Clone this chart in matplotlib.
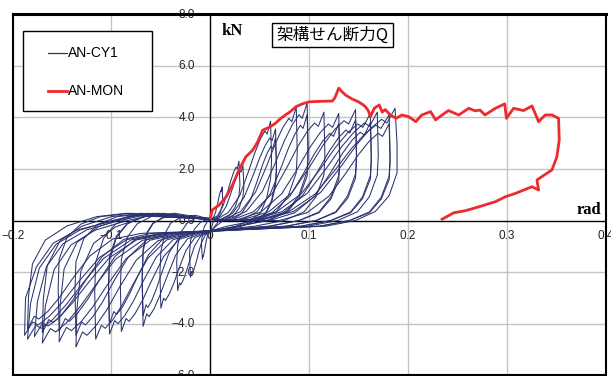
import matplotlib
matplotlib.use("Agg")
import matplotlib.pyplot as plt
from matplotlib.patches import Rectangle
from matplotlib.lines import Line2D

plt.rcParams["font.family"] = ["Liberation Sans", "Noto Sans CJK JP", "DejaVu Sans"]
plt.rcParams["axes.unicode_minus"] = True

# ── データ ────────────────────────────────────────
# AN-MON（単調載荷）
mon = [(0.000, 0.09), (0.002, 0.41), (0.009, 0.60), (0.016, 0.92), (0.0225, 1.38),
       (0.029, 1.96), (0.036, 2.47), (0.043, 2.73), (0.048, 3.05), (0.053, 3.50),
       (0.060, 3.62), (0.066, 3.77), (0.071, 3.95), (0.076, 4.09), (0.081, 4.22),
       (0.0866, 4.41), (0.093, 4.52), (0.100, 4.60), (0.112, 4.62), (0.1235, 4.63),
       (0.126, 4.75), (0.130, 5.13), (0.133, 5.00), (0.137, 4.86), (0.143, 4.72),
       (0.150, 4.60), (0.154, 4.50), (0.157, 4.41), (0.160, 4.25), (0.162, 4.02),
       (0.166, 4.35), (0.171, 4.48), (0.174, 4.20), (0.177, 4.30), (0.182, 4.10),
       (0.188, 3.96), (0.194, 4.09), (0.201, 4.02), (0.208, 3.83), (0.214, 4.09),
       (0.223, 4.22), (0.228, 3.90), (0.235, 4.10), (0.241, 4.26), (0.2515, 4.09),
       (0.2616, 4.35), (0.268, 4.25), (0.273, 4.28), (0.278, 4.09), (0.2886, 4.35),
       (0.298, 4.52), (0.2997, 3.96), (0.307, 4.35), (0.317, 4.26), (0.3256, 4.44),
       (0.3323, 3.83), (0.339, 4.09), (0.3458, 4.09), (0.3525, 3.96), (0.3532, 3.12),
       (0.3508, 2.47), (0.3458, 1.96), (0.3356, 1.70), (0.3306, 1.57), (0.3323, 1.18),
       (0.3256, 1.31), (0.3088, 1.05), (0.2987, 0.92), (0.2886, 0.73), (0.2717, 0.53),
       (0.2583, 0.38), (0.2465, 0.30), (0.2346, 0.05)]

# AN-CY1（繰り返し載荷）各サイクル
a01 = [(0.0, 0.05), (0.003, 0.10), (0.0054, 0.33), (0.0072, 0.62), (0.0086, 0.88), (0.0098, 1.07),
       (0.0108, 1.17), (0.0113, 1.13), (0.012, 1.30), (0.0125, 0.78), (0.012, 0.55), (0.010, 0.29),
       (0.007, 0.10), (0.003, -0.05), (0.0, -0.44), (-0.002, -0.51), (-0.0036, -0.69),
       (-0.0048, -0.94), (-0.0058, -1.15), (-0.0066, -1.31), (-0.0072, -1.39), (-0.0075, -1.36),
       (-0.008, -1.50), (-0.009, -0.90), (-0.008, -0.53), (-0.006, -0.23), (-0.003, -0.05), (0.0, 0.05)]
a02 = [(0.0, 0.05), (0.0073, 0.18), (0.013, 0.58), (0.0174, 1.10), (0.0209, 1.56), (0.0238, 1.89),
       (0.0261, 2.07), (0.0273, 2.00), (0.029, 2.30), (0.030, 1.38), (0.029, 0.97), (0.025, 0.51),
       (0.019, 0.18), (0.009, 0.0), (0.0, -0.46), (-0.005, -0.56), (-0.009, -0.865), (-0.012, -1.27),
       (-0.0144, -1.63), (-0.0164, -1.88), (-0.018, -2.02), (-0.0188, -1.97), (-0.020, -2.20),
       (-0.021, -1.32), (-0.020, -0.77), (-0.016, -0.33), (-0.010, -0.07), (0.0, 0.10)]
a03 = [(0.0, 0.05), (0.002, 0.04), (0.0098, 0.17), (0.016, 0.54), (0.0206, 1.03), (0.0243, 1.46),
       (0.0274, 1.76), (0.0299, 1.94), (0.0311, 1.87), (0.033, 2.15), (0.034, 1.29), (0.033, 0.90),
       (0.029, 0.47), (0.023, 0.17), (0.013, 0.0), (-0.002, -0.466), (-0.0098, -0.604),
       (-0.016, -0.995), (-0.0206, -1.524), (-0.0243, -1.984), (-0.0274, -2.306), (-0.0299, -2.49),
       (-0.0311, -2.42), (-0.033, -2.72), (-0.034, -1.63), (-0.033, -0.95), (-0.029, -0.41),
       (-0.023, -0.08), (-0.013, 0.12), (0.0, 0.10)]
a04 = [(0.0, 0.05), (0.004, 0.0), (0.0183, 0.31), (0.0297, 0.96), (0.0382, 1.85), (0.045, 2.62),
       (0.0507, 3.16), (0.0553, 3.47), (0.0576, 3.35), (0.061, 3.85), (0.062, 2.31), (0.061, 1.62),
       (0.057, 0.85), (0.051, 0.31), (0.041, 0.0), (0.026, -0.22), (-0.004, -0.48),
       (-0.0155, -0.66), (-0.0247, -1.165), (-0.0316, -1.85), (-0.0371, -2.45), (-0.0417, -2.86),
       (-0.0454, -3.10), (-0.0472, -3.01), (-0.050, -3.40), (-0.051, -2.04), (-0.050, -1.19),
       (-0.046, -0.51), (-0.040, -0.10), (-0.030, 0.12), (-0.015, 0.20), (0.0, 0.05)]
a05 = [(0.0, 0.05), (0.008, 0.0), (0.0225, 0.28), (0.0341, 0.89), (0.0428, 1.70), (0.0498, 2.41),
       (0.0556, 2.91), (0.0602, 3.20), (0.0625, 3.09), (0.066, 3.55), (0.067, 2.13), (0.066, 1.49),
       (0.062, 0.78), (0.056, 0.28), (0.046, 0.0), (0.031, -0.22), (0.0, -0.42), (-0.008, -0.49),
       (-0.023, -0.71), (-0.035, -1.34), (-0.044, -2.19), (-0.0512, -2.92), (-0.0572, -3.44),
       (-0.062, -3.73), (-0.0644, -3.62), (-0.068, -4.10), (-0.069, -2.46), (-0.068, -1.20),
       (-0.064, -0.50), (-0.058, -0.12), (-0.048, 0.12), (-0.033, 0.22), (0.0, 0.0)]
a06 = [(0.0, 0.05), (0.012, 0.0), (0.0308, 0.35), (0.0458, 1.10), (0.057, 2.11), (0.066, 2.99),
       (0.0735, 3.61), (0.0795, 3.96), (0.0825, 3.83), (0.087, 4.40), (0.088, 2.64), (0.087, 1.85),
       (0.079, 0.97), (0.067, 0.35), (0.047, 0.0), (0.017, -0.22), (0.0, -0.40), (-0.012, -0.50),
       (-0.0315, -0.73), (-0.0471, -1.39), (-0.0588, -2.28), (-0.0682, -3.06), (-0.076, -3.60),
       (-0.0822, -3.91), (-0.0853, -3.80), (-0.090, -4.30), (-0.091, -2.58), (-0.090, -1.50),
       (-0.084, -0.65), (-0.074, -0.13), (-0.060, 0.15), (-0.040, 0.25), (-0.015, 0.12), (0.0, 0.05)]
a07 = [(0.0, 0.05), (0.016, 0.0), (0.0365, 0.36), (0.0529, 1.14), (0.0652, 2.18), (0.075, 3.09),
       (0.0832, 3.73), (0.0898, 4.10), (0.0931, 3.96), (0.098, 4.55), (0.099, 2.73), (0.098, 1.91),
       (0.090, 1.00), (0.078, 0.36), (0.058, 0.0), (0.028, -0.22), (0.0, -0.42), (-0.016, -0.50),
       (-0.0375, -0.74), (-0.0547, -1.42), (-0.0676, -2.33), (-0.0779, -3.13), (-0.0865, -3.68),
       (-0.0934, -4.00), (-0.0968, -3.88), (-0.102, -4.40), (-0.103, -2.64), (-0.102, -1.54),
       (-0.095, -0.66), (-0.084, -0.13), (-0.068, 0.15), (-0.048, 0.28), (-0.020, 0.12), (0.0, 0.05)]
a08 = [(0.0, 0.05), (0.020, 0.0), (0.0438, 0.34), (0.0628, 1.05), (0.077, 2.02), (0.0884, 2.86),
       (0.0979, 3.44), (0.1055, 3.78), (0.1093, 3.65), (0.115, 4.20), (0.116, 2.52), (0.115, 1.76),
       (0.107, 0.92), (0.095, 0.34), (0.075, 0.0), (0.045, -0.22), (0.0, -0.40), (-0.020, -0.50),
       (-0.044, -0.75), (-0.0632, -1.465), (-0.0776, -2.43), (-0.0891, -3.26), (-0.0987, -3.85),
       (-0.1064, -4.18), (-0.1102, -4.06), (-0.116, -4.60), (-0.117, -2.76), (-0.116, -1.61),
       (-0.108, -0.69), (-0.096, -0.14), (-0.080, 0.15), (-0.058, 0.28), (-0.025, 0.12), (0.0, 0.05)]
a09 = [(0.0, 0.05), (0.025, 0.0), (0.0513, 0.33), (0.0723, 1.04), (0.088, 1.99), (0.1006, 2.82),
       (0.1111, 3.40), (0.1195, 3.74), (0.1237, 3.61), (0.130, 4.15), (0.131, 2.49), (0.130, 1.74),
       (0.122, 0.91), (0.110, 0.33), (0.090, 0.0), (0.060, -0.22), (0.0, -0.42), (-0.025, -0.51),
       (-0.0528, -0.78), (-0.075, -1.54), (-0.0916, -2.57), (-0.1049, -3.47), (-0.116, -4.09),
       (-0.1249, -4.45), (-0.1293, -4.32), (-0.136, -4.90), (-0.135, -3.43), (-0.131, -1.96),
       (-0.118, -0.88), (-0.096, -0.25), (-0.066, 0.15), (-0.036, 0.28), (0.0, 0.05)]
a10 = [(0.0, 0.05), (0.030, 0.0), (0.0593, 0.34), (0.0827, 1.08), (0.1002, 2.06), (0.1142, 2.92),
       (0.1259, 3.53), (0.1353, 3.87), (0.140, 3.74), (0.147, 4.30), (0.148, 2.58), (0.147, 1.81),
       (0.139, 0.95), (0.127, 0.34), (0.107, 0.0), (0.077, -0.22), (0.0, -0.40), (-0.030, -0.51),
       (-0.0608, -0.76), (-0.0854, -1.49), (-0.1038, -2.47), (-0.1186, -3.33), (-0.1309, -3.93),
       (-0.1407, -4.27), (-0.1456, -4.14), (-0.153, -4.70), (-0.152, -3.29), (-0.148, -1.88),
       (-0.135, -0.85), (-0.113, -0.24), (-0.083, 0.15), (-0.053, 0.28), (0.0, 0.05)]
a11 = [(0.0, 0.05), (0.035, 0.0), (0.0668, 0.33), (0.0922, 1.04), (0.1112, 1.99), (0.1264, 2.82),
       (0.1391, 3.40), (0.1493, 3.74), (0.1544, 3.61), (0.162, 4.15), (0.163, 2.49), (0.162, 1.74),
       (0.154, 0.91), (0.142, 0.33), (0.122, 0.0), (0.092, -0.22), (0.0, -0.42), (-0.035, -0.51),
       (-0.0688, -0.77), (-0.0958, -1.50), (-0.116, -2.50), (-0.1322, -3.36), (-0.1457, -3.97),
       (-0.1565, -4.32), (-0.1619, -4.19), (-0.170, -4.75), (-0.167, -3.33), (-0.158, -1.90),
       (-0.141, -0.95), (-0.117, -0.38), (-0.084, 0.0), (-0.060, 0.20), (0.0, 0.05)]
a12 = [(0.0, 0.05), (0.040, 0.0), (0.0723, 0.34), (0.098, 1.05), (0.1174, 2.02), (0.1329, 2.86),
       (0.1458, 3.44), (0.1561, 3.78), (0.1613, 3.65), (0.169, 4.20), (0.170, 2.52), (0.169, 1.76),
       (0.161, 0.92), (0.149, 0.34), (0.129, 0.0), (0.099, -0.22), (0.0, -0.40), (-0.040, -0.50),
       (-0.0745, -0.75), (-0.1021, -1.44), (-0.1228, -2.38), (-0.1394, -3.19), (-0.1532, -3.77),
       (-0.1642, -4.09), (-0.1697, -3.97), (-0.178, -4.50), (-0.175, -3.15), (-0.166, -1.80),
       (-0.149, -0.90), (-0.125, -0.36), (-0.092, 0.0), (-0.068, 0.20), (0.0, 0.05)]
a13 = [(0.0, 0.05), (0.045, 0.0), (0.079, 0.33), (0.1062, 1.03), (0.1266, 1.97), (0.1429, 2.79),
       (0.1565, 3.36), (0.1674, 3.69), (0.1728, 3.57), (0.181, 4.10), (0.182, 2.46), (0.181, 1.72),
       (0.173, 0.90), (0.161, 0.33), (0.141, 0.0), (0.111, -0.22), (0.0, -0.42), (-0.045, -0.50),
       (-0.080, -0.75), (-0.108, -1.47), (-0.129, -2.43), (-0.1458, -3.26), (-0.1598, -3.85),
       (-0.171, -4.18), (-0.1766, -4.06), (-0.185, -4.60), (-0.182, -3.22), (-0.173, -1.84),
       (-0.156, -0.92), (-0.132, -0.37), (-0.099, 0.0), (-0.075, 0.20), (0.0, 0.05)]
a14 = [(0.0, 0.05), (0.050, 0.0), (0.0843, 0.35), (0.1117, 1.09), (0.1322, 2.09), (0.1486, 2.96),
       (0.1623, 3.57), (0.1733, 3.92), (0.1788, 3.78), (0.187, 4.35), (0.189, 3.00), (0.189, 1.85),
       (0.181, 0.96), (0.167, 0.35), (0.147, 0.0), (0.117, -0.22), (0.0, -0.40), (-0.050, -0.50),
       (-0.0845, -0.74), (-0.1121, -1.43), (-0.1328, -2.35), (-0.1494, -3.16), (-0.1632, -3.72),
       (-0.1742, -4.05), (-0.1797, -3.93), (-0.188, -4.45), (-0.187, -3.00), (-0.176, -1.80),
       (-0.159, -0.88), (-0.135, -0.37), (-0.102, -0.05), (-0.078, 0.20), (0.0, 0.05)]
# 2回目の繰り返し（同振幅）
s05 = [(0.0, 0.05), (0.020, 0.0), (0.0315, 0.26), (0.0407, 0.80), (0.0476, 1.54), (0.0531, 2.18),
       (0.0577, 2.62), (0.0614, 2.88), (0.0632, 2.78), (0.066, 3.20), (0.067, 1.92), (0.066, 1.34),
       (0.062, 0.70), (0.056, 0.26), (0.046, 0.0), (0.031, -0.22), (0.0, -0.42), (-0.020, -0.49),
       (-0.032, -0.68), (-0.0416, -1.24), (-0.0488, -1.99), (-0.0546, -2.65), (-0.0594, -3.11),
       (-0.0632, -3.37), (-0.0651, -3.27), (-0.068, -3.70), (-0.069, -2.20), (-0.068, -1.10),
       (-0.064, -0.45), (-0.058, -0.10), (-0.048, 0.10), (-0.033, 0.20), (0.0, 0.0)]
s07 = [(0.0, 0.05), (0.030, 0.0), (0.047, 0.33), (0.0606, 1.03), (0.0708, 1.97), (0.079, 2.79),
       (0.0858, 3.36), (0.0912, 3.69), (0.0939, 3.57), (0.098, 4.10), (0.099, 2.46), (0.098, 1.72),
       (0.090, 0.90), (0.078, 0.33), (0.058, 0.0), (0.028, -0.22), (0.0, -0.40), (-0.030, -0.50),
       (-0.048, -0.71), (-0.0624, -1.32), (-0.0732, -2.14), (-0.0818, -2.85), (-0.089, -3.36),
       (-0.0948, -3.64), (-0.0977, -3.53), (-0.102, -4.00), (-0.103, -2.40), (-0.102, -1.40),
       (-0.095, -0.60), (-0.084, -0.12), (-0.068, 0.15), (-0.048, 0.25), (0.0, 0.05)]
s09 = [(0.0, 0.05), (0.040, 0.0), (0.0625, 0.30), (0.0805, 0.94), (0.094, 1.80), (0.1048, 2.55),
       (0.1138, 3.08), (0.121, 3.38), (0.1246, 3.26), (0.130, 3.75), (0.131, 2.25), (0.130, 1.58),
       (0.122, 0.83), (0.110, 0.30), (0.090, 0.0), (0.060, -0.22), (0.0, -0.42), (-0.040, -0.50),
       (-0.064, -0.74), (-0.0832, -1.43), (-0.0976, -2.35), (-0.1091, -3.16), (-0.1187, -3.72),
       (-0.1264, -4.05), (-0.1302, -3.93), (-0.136, -4.45), (-0.137, -2.70), (-0.136, -1.60),
       (-0.128, -0.70), (-0.114, -0.15), (-0.094, 0.15), (-0.064, 0.28), (0.0, 0.05)]
s10 = [(0.0, 0.05), (0.050, 0.0), (0.0743, 0.31), (0.0937, 0.98), (0.1082, 1.87), (0.1198, 2.65),
       (0.1295, 3.20), (0.1373, 3.51), (0.1412, 3.39), (0.147, 3.90), (0.148, 2.34), (0.147, 1.64),
       (0.139, 0.86), (0.127, 0.31), (0.107, 0.0), (0.077, -0.22), (0.0, -0.40), (-0.050, -0.50),
       (-0.0758, -0.73), (-0.0964, -1.39), (-0.1118, -2.28), (-0.1242, -3.06), (-0.1345, -3.60),
       (-0.1427, -3.91), (-0.1468, -3.80), (-0.153, -4.30), (-0.154, -2.60), (-0.153, -1.50),
       (-0.145, -0.65), (-0.131, -0.14), (-0.111, 0.15), (-0.081, 0.28), (0.0, 0.05)]
s11 = [(0.0, 0.05), (0.060, 0.0), (0.0855, 0.30), (0.1059, 0.95), (0.1212, 1.82), (0.1334, 2.58),
       (0.1436, 3.12), (0.1518, 3.42), (0.1559, 3.31), (0.162, 3.80), (0.163, 2.28), (0.162, 1.60),
       (0.154, 0.84), (0.142, 0.30), (0.122, 0.0), (0.092, -0.22), (0.0, -0.42), (-0.060, -0.50),
       (-0.0875, -0.73), (-0.1095, -1.40), (-0.126, -2.31), (-0.1392, -3.09), (-0.1502, -3.64),
       (-0.159, -3.96), (-0.1634, -3.84), (-0.170, -4.35), (-0.169, -3.05), (-0.165, -1.74),
       (-0.152, -0.78), (-0.130, -0.22), (-0.100, 0.15), (-0.070, 0.28), (0.0, 0.05)]
s13 = [(0.0, 0.05), (0.070, 0.0), (0.0978, 0.30), (0.120, 0.94), (0.1366, 1.80), (0.1499, 2.55),
       (0.161, 3.08), (0.1699, 3.38), (0.1743, 3.26), (0.181, 3.75), (0.182, 2.25), (0.181, 1.58),
       (0.173, 0.83), (0.161, 0.30), (0.141, 0.0), (0.111, -0.22), (0.0, -0.40), (-0.070, -0.50),
       (-0.0988, -0.72), (-0.1218, -1.37), (-0.139, -2.23), (-0.1528, -2.99), (-0.1643, -3.52),
       (-0.1735, -3.82), (-0.1781, -3.71), (-0.185, -4.20), (-0.184, -2.94), (-0.180, -1.68),
       (-0.167, -0.76), (-0.145, -0.21), (-0.115, 0.15), (-0.085, 0.28), (0.0, 0.05)]
cycles = [a01, a02, a03, a04, a05, s05, a06, a07, s07, a08, a09, s09, a10, s10,
          a11, s11, a12, a13, s13, a14]

x_ticks = [-0.2, -0.1, 0.0, 0.1, 0.2, 0.3, 0.4]
x_tick_labels = ["−0.2", "−0.1", "0", "0.1", "0.2", "0.3", "0.4"]
y_ticks = [-6.0, -4.0, -2.0, 0.0, 2.0, 4.0, 6.0, 8.0]
y_tick_labels = ["−6.0", "−4.0", "−2.0", "0.0", "2.0", "4.0", "6.0", "8.0"]

BLUE = "#2a3270"
RED = "#ee2a2e"

W, H = 611, 376
fig = plt.figure(figsize=(W / 100, H / 100), dpi=100)
ax = fig.add_axes([12.7 / W, 1 - 375.3 / H, (605.5 - 12.7) / W, (375.3 - 14.1) / H])
ax.set_xlim(-0.2, 0.4)
ax.set_ylim(-6, 8)
ax.set_xticks([])
ax.set_yticks([])

# グリッドと中心軸
for xv in x_ticks:
    if xv != 0:
        ax.axvline(xv, color="#c4c4c4", lw=1.0, zorder=0)
for yv in y_ticks:
    if yv != 0:
        ax.axhline(yv, color="#c4c4c4", lw=1.0, zorder=0)
ax.axhline(0, color="black", lw=1.0, zorder=1)
ax.axvline(0, color="black", lw=1.0, zorder=1)

for sp in ["left", "bottom", "right"]:
    ax.spines[sp].set_linewidth(1.5)
ax.spines["top"].set_linewidth(2.2)

# 目盛りラベル（中心軸沿い）
for xv, lab in zip(x_ticks, x_tick_labels):
    ax.text(xv, -0.62, lab, ha="center", va="center", fontsize=8.5, color="#222222",
            zorder=1, clip_on=False)
for yv, lab in zip(y_ticks, y_tick_labels):
    ax.text(-0.0155, yv - 0.03, lab, ha="right", va="center", fontsize=8.5, color="#222222",
            zorder=1, clip_on=False)

# データ
for cyc in cycles:
    xs, ys = zip(*cyc)
    ax.plot(xs, ys, color=BLUE, lw=0.75, zorder=2)
mx, my = zip(*mon)
ax.plot(mx, my, color=RED, lw=2.0, zorder=3, solid_joinstyle="round")

# 軸ラベル・タイトル
ax.text(0.0222, 7.33, "kN", ha="center", va="center", fontsize=12,
        family="Liberation Serif", fontweight="bold")
ax.text(0.3955, 0.42, "rad", ha="right", va="center", fontsize=12,
        family="Liberation Serif", fontweight="bold")

fig.patches.append(Rectangle((271.7 / W, 1 - 47.3 / H), (393.3 - 271.7) / W, (47.3 - 22.7) / H,
                             transform=fig.transFigure, fill=True, fc="white", ec="black",
                             lw=1.0, zorder=5))
fig.text(332.5 / W, 1 - 35.5 / H, "架構せん断力Q", ha="center", va="center", fontsize=12,
         family=["Noto Sans CJK JP"], zorder=6)

# 凡例
fig.patches.append(Rectangle((23.3 / W, 1 - 111 / H), (152.3 - 23.3) / W, (111 - 31) / H,
                             transform=fig.transFigure, fill=True, fc="white", ec="black",
                             lw=1.0, zorder=5))
fig.lines.append(Line2D([48 / W, 67 / W], [1 - 52.7 / H] * 2, transform=fig.transFigure,
                        color=BLUE, lw=0.9, zorder=6))
fig.lines.append(Line2D([48 / W, 67 / W], [1 - 90.7 / H] * 2, transform=fig.transFigure,
                        color=RED, lw=2.0, zorder=6))
fig.text(67.5 / W, 1 - 52.7 / H, "AN-CY1", ha="left", va="center", fontsize=10, zorder=6)
fig.text(67.5 / W, 1 - 90.7 / H, "AN-MON", ha="left", va="center", fontsize=10, zorder=6)

fig.savefig("out.png", dpi=100)
